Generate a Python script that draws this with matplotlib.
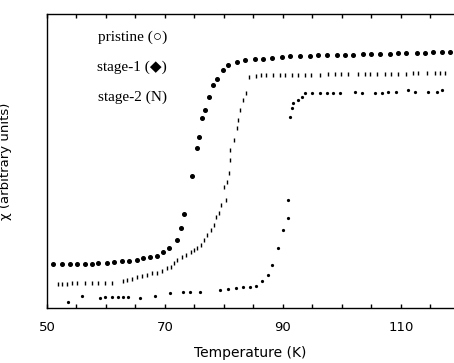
#!/usr/bin/env python
"""
Normalised transition curves versus temperature for the pristine,
stage-1 and stage-2 samples (values read off the scanned figure).
"""

import matplotlib
matplotlib.use("Agg")
import matplotlib.pyplot as plt
from matplotlib.ticker import MultipleLocator, FixedLocator

# stage-1 (filled diamonds / large dots)
T_stage1 = [51.1, 52.5, 53.9, 55.1, 56.4, 57.6, 58.7, 60.1, 61.4, 62.7,
            63.9, 65.2, 66.3, 67.5, 68.6, 69.7, 70.6, 72.0, 72.8, 73.2,
            74.5, 75.4, 75.8, 76.2, 76.8, 77.5, 78.1, 78.8, 79.9, 80.7,
            82.2, 83.6, 85.3, 86.7, 88.1, 89.8, 91.2, 92.9, 94.6, 96.0,
            97.4, 99.1, 100.5, 101.9, 103.6, 105.0, 106.4, 108.1, 109.5,
            110.9, 112.7, 114.1, 115.5, 116.9, 118.3]
S_stage1 = [0.149, 0.149, 0.149, 0.149, 0.150, 0.151, 0.152, 0.154, 0.155, 0.159,
            0.161, 0.164, 0.169, 0.172, 0.178, 0.190, 0.203, 0.231, 0.271, 0.320,
            0.449, 0.543, 0.583, 0.645, 0.673, 0.719, 0.759, 0.778, 0.810, 0.827,
            0.838, 0.844, 0.846, 0.847, 0.849, 0.855, 0.856, 0.857, 0.858, 0.859,
            0.860, 0.861, 0.861, 0.862, 0.863, 0.864, 0.864, 0.865, 0.866,
            0.867, 0.868, 0.869, 0.870, 0.871, 0.872]

# stage-2 (small dashes)
T_stage2 = [51.9, 52.5, 53.4, 54.2, 55.1, 56.4, 57.6, 58.6, 59.8, 61.0,
            62.9, 63.6, 64.4, 65.3, 66.1, 66.9, 67.8, 68.6, 69.5, 70.3,
            71.0, 71.5, 72.0, 72.9, 73.6, 74.4, 74.9, 75.4, 76.1, 76.6,
            77.1, 77.8, 78.3, 78.6, 79.2, 79.5, 80.0, 80.3, 80.5, 80.8,
            81.0, 81.1, 81.7, 82.2, 82.4, 82.7, 83.2, 83.8, 84.3, 85.4,
            86.3, 87.1, 88.4, 89.5, 90.3, 91.5, 92.6, 93.7, 94.8, 96.3,
            97.7, 98.8, 99.9, 101.1, 102.8, 103.9, 104.7, 105.9, 107.3, 108.4,
            109.5, 110.9, 112.1, 112.9, 114.4, 115.8, 116.6, 117.5]
S_stage2 = [0.082, 0.082, 0.082, 0.084, 0.084, 0.086, 0.084, 0.084, 0.086, 0.086,
            0.093, 0.095, 0.098, 0.104, 0.109, 0.112, 0.118, 0.120, 0.125, 0.136,
            0.139, 0.153, 0.163, 0.173, 0.180, 0.190, 0.197, 0.204, 0.214, 0.231,
            0.248, 0.265, 0.282, 0.310, 0.323, 0.350, 0.412, 0.367, 0.429, 0.459,
            0.503, 0.537, 0.571, 0.612, 0.639, 0.673, 0.707, 0.731, 0.787, 0.790,
            0.791, 0.792, 0.793, 0.793, 0.793, 0.793, 0.794, 0.794, 0.794, 0.794,
            0.795, 0.795, 0.795, 0.795, 0.796, 0.796, 0.796, 0.796, 0.797, 0.797,
            0.797, 0.797, 0.798, 0.798, 0.798, 0.798, 0.798, 0.798]

# pristine (small open circles, nearly dots in the scan)
T_pristine = [53.6, 55.9, 59.0, 59.8, 61.0, 62.0, 62.9, 63.7, 65.8, 68.3,
              70.8, 73.1, 74.2, 75.9, 79.3, 80.7, 82.0, 83.2, 84.4, 85.4,
              86.4, 87.5, 88.1, 89.2, 90.0, 90.8, 90.8, 91.2, 91.5, 91.7,
              92.5, 93.2, 93.7, 94.9, 96.3, 97.5, 98.5, 99.7, 102.2, 103.4,
              105.6, 106.8, 107.8, 109.2, 111.2, 112.4, 114.6, 116.1, 116.9]
S_pristine = [0.021, 0.041, 0.034, 0.037, 0.037, 0.037, 0.037, 0.037, 0.034, 0.041,
              0.051, 0.054, 0.056, 0.055, 0.061, 0.065, 0.068, 0.071, 0.073, 0.075,
              0.092, 0.112, 0.146, 0.204, 0.265, 0.306, 0.367, 0.650, 0.680, 0.697,
              0.707, 0.718, 0.731, 0.732, 0.732, 0.732, 0.732, 0.731, 0.736, 0.731,
              0.732, 0.732, 0.736, 0.736, 0.741, 0.736, 0.736, 0.736, 0.741]

x_ticks = [50, 70, 90, 110]
legend_lines = ["pristine (\u25cb)", "stage-1 (\u25c6)", "stage-2 (N)"]

fig = plt.figure(figsize=(4.54, 3.63), dpi=100)
ax = fig.add_axes([0.1035, 0.1515, 0.8965, 0.8099])

ax.plot(T_stage1, S_stage1, "o", ms=2.6, color="k", mec="k")
ax.plot(T_stage2, S_stage2, "|", ms=3.2, mew=1.0, color="k")
ax.plot(T_pristine, S_pristine, "o", ms=1.3, color="k", mec="k")

ax.set_xlim(50, 119)
ax.set_ylim(0, 1)
ax.spines["right"].set_visible(False)
for s in ("left", "bottom", "top"):
    ax.spines[s].set_linewidth(1.0)

ax.xaxis.set_major_locator(FixedLocator(x_ticks))
ax.xaxis.set_minor_locator(MultipleLocator(5))
ax.tick_params(axis="x", which="both", direction="in", top=True,
               length=3, width=1.0, pad=9, labelsize=9.5)
ax.tick_params(axis="y", which="both", left=False, labelleft=False)

ax.set_xlabel("Temperature (K)", fontsize=10, labelpad=9)
ax.set_ylabel("\u03c7 (arbitrary units)", fontsize=9.5)
ax.yaxis.set_label_coords(-0.085, 0.5)

for i, txt in enumerate(legend_lines):
    ax.text(0.295, 0.922 - 0.102 * i, txt, transform=ax.transAxes,
            ha="right", va="center", fontsize=11,
            family=["Liberation Serif", "DejaVu Sans"])

fig.savefig("out.png", dpi=100)
